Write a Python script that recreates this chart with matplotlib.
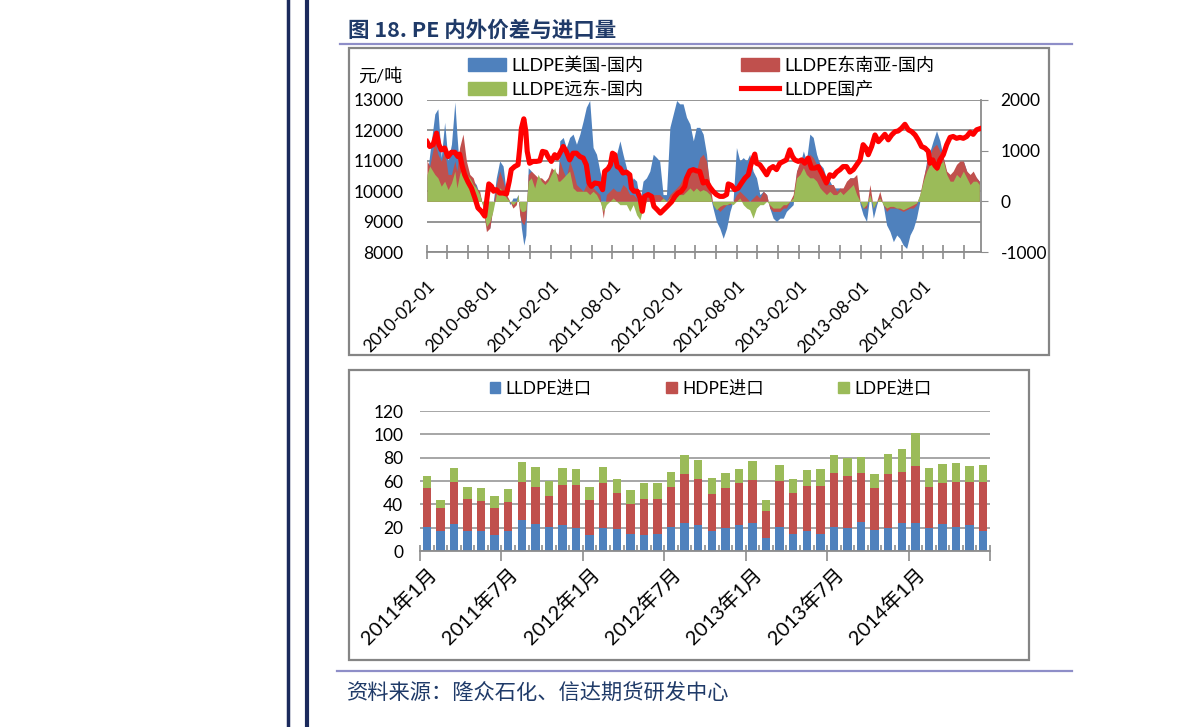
import matplotlib
matplotlib.use("Agg")
import matplotlib.pyplot as plt
import matplotlib.dates as mdates
from matplotlib.patches import Patch, Rectangle
from matplotlib.lines import Line2D
import numpy as np
import pandas as pd

plt.rcParams['font.family'] = ['Lato', 'Noto Sans CJK SC', 'DejaVu Sans']
plt.rcParams['axes.unicode_minus'] = False

# ---------------- data: top chart ----------------
start_date = "2010-02-01"
x_end_day = 1631

price_day = [0, 8, 18, 28, 35, 42, 52, 62, 72, 82, 91, 96, 104, 111, 121, 131, 141, 150, 160, 170,
             175, 182, 190, 196, 204, 214, 224, 234, 242, 248, 258, 268, 273, 278, 285, 291, 295, 302, 312, 322,
             332, 340, 350, 356, 366, 376, 383,
             391, 401, 410, 420, 430, 440, 450, 460, 469, 477, 484, 494, 509, 517, 523, 533, 540, 546, 553, 560,
             568, 577, 587, 597, 602, 609, 619, 627, 634, 641, 651, 661, 668, 678, 687, 697, 707, 720, 730, 739,
             749, 759, 764, 774, 784, 793,
             803, 813, 823, 833, 842, 852, 862, 872, 882, 887, 897, 906, 916, 926, 936, 946, 952, 958, 965, 970,
             980, 990, 1000, 1009, 1019, 1029, 1039, 1049, 1058, 1068, 1076, 1083, 1093, 1103, 1112, 1122, 1132,
             1142, 1152, 1162, 1171, 1176, 1186, 1196, 1206,
             1216, 1225, 1235, 1245, 1255, 1265, 1275, 1284, 1292, 1299, 1309, 1319, 1329, 1338, 1348, 1358, 1368,
             1378, 1387, 1397, 1407, 1417, 1427, 1437, 1446, 1456, 1466, 1476, 1481, 1489, 1495, 1502, 1510, 1520,
             1530, 1540, 1549, 1559, 1569, 1579, 1589, 1599, 1608, 1618, 1626]
price_lldpe = [11630, 11470, 11530, 11910, 11530, 11360, 11420, 11140, 11280, 11280, 11140, 11220, 10810, 10540,
               10300, 10100, 9780, 9450, 9340, 9180, 9610, 10240, 10160, 10000, 10050, 9940, 9940, 9910, 10320,
               10710, 10810, 10870, 11420, 12070, 12380, 11960, 11310, 10920, 10980, 10980, 11000, 11310, 11280,
               11140, 10980, 11200, 11090,
               11250, 11470, 11310, 11030, 11250, 11250, 11140, 11090, 10870, 10270, 10160, 10270, 10240, 10050,
               10650, 10740, 10870, 11250, 11200, 10810, 10760, 10600, 10630, 10540, 10100, 10000, 10000, 9780,
               9340, 9830, 9890, 9830, 9500, 9390, 9280, 9390, 9500, 9650, 9830, 9940, 10000, 10160, 10430, 10670,
               10710, 10670,
               10650, 10270, 10320, 10130, 10000, 9890, 9830, 9830, 9890, 10240, 10190, 10050, 10100, 10270, 10430,
               10540, 10810, 11030, 11220, 10920, 10870, 10710, 10540, 10740, 10810, 10710, 10920, 10980, 11030,
               11360, 11140, 11030, 10980, 11030, 10920, 11090, 10760, 10760, 10810, 10600, 10380, 10270, 10540,
               10490, 10630,
               10710, 10810, 10810, 10630, 10710, 10870, 11030, 11530, 11420, 11200, 11470, 11850, 11630, 11740,
               11870, 11690, 11850, 11960, 11980, 12070, 12200, 12020, 11960, 11850, 11690, 11470, 11420, 11310,
               10920, 11030, 10850, 10760, 11030, 11200, 11530, 11770, 11800, 11740, 11770, 11740, 11800, 11940,
               11870, 12020, 12050]

spread_day = [0, 8, 23, 32, 42, 52, 62, 72, 82, 88, 96, 106, 116, 126, 136, 145, 155, 165, 175, 185,
              194, 204, 214, 224, 234, 244, 253, 263, 268, 273, 278, 285, 291, 298, 307, 317, 327, 337, 347, 356,
              366, 376, 386,
              391, 401, 410, 420, 430, 440, 450, 460, 469, 479, 489, 499, 509, 519, 528, 538, 548, 558, 568, 577,
              587, 597, 607, 617, 627, 636, 646, 656, 666, 676, 685, 695, 705, 715, 725, 735, 744, 754, 764, 774,
              784, 793,
              803, 813, 823, 833, 842, 852, 862, 872, 882, 892, 901, 911, 921, 931, 941, 950, 960, 970, 980, 990,
              1000, 1009, 1019, 1029, 1039, 1049, 1058, 1068, 1078, 1088, 1098, 1108, 1117, 1127, 1137, 1147, 1157,
              1166, 1176, 1186, 1196, 1206,
              1216, 1225, 1235, 1245, 1255, 1265, 1275, 1284, 1294, 1304, 1314, 1324, 1333, 1343, 1353, 1363, 1373,
              1383, 1392, 1402, 1412, 1422, 1432, 1441, 1451, 1461, 1471, 1481, 1490, 1500, 1510, 1520, 1530, 1540,
              1549, 1559, 1569, 1579, 1589, 1599, 1608, 1618, 1626]
spread_us = [464, 929, 1725, 1825, 863, 1560, 796, 1128, 1960, 1327, 597, 531, 464, 464, 398, 332, 133, -66, -398,
             -531, -66, 464, 796, 697, 133, -66, 66, 66, 133, -199, -531, -863, -664, 664, 597, 464, 398, 398, 332,
             464, 531, 531, 464,
             1194, 1261, 1062, 1261, 1327, 1128, 1327, 1593, 1858, 1990, 1062, 929, 597, 332, 664, 796, 863, 929,
             1194, 929, 664, 265, 464, 398, 0, 398, 464, 597, 929, 863, 796, 133, 133, 1460, 1725, 1990, 1924, 1924,
             1659, 1526, 1194, 1460,
             1460, 1327, 929, 133, -133, -398, -531, -730, -531, -199, 0, 1062, 796, 863, 796, 929, 597, 464, 133,
             199, 133, -133, -332, -398, -332, -332, -199, -133, -66, 597, 730, 995, 796, 1327, 1261, 929, 730, 664,
             464, 398, 265, 265,
             265, 199, 332, 464, 464, 398, -66, -265, -398, 133, -332, -66, 133, -66, -465, -597, -796, -664, -730,
             -863, -929, -664, -531, -332, 0, 398, 796, 995, 1194, 1394, 1194, 863, 531, 464, 531, 664, 730, 796,
             597, 464, 531, 464, 398]
spread_sea = [796, 697, 1194, 929, 796, 995, 531, 531, 796, 597, 1062, 1327, 796, 531, 464, 265, 199, -133, -597,
              -531, -133, 332, 597, 398, 133, 0, -133, -66, 133, -265, -398, -465, -332, 531, 597, 531, 464, 464, 398,
              464, 664, 597, 531,
              796, 597, 464, 796, 597, 332, 265, 199, 332, 398, 265, 199, 133, -332, 133, 199, 265, 199, 199, 332,
              265, 133, 133, 66, -199, 0, 66, 133, 133, 133, 133, 66, 0, 133, 199, 265, 332, 464, 531, 597, 664, 597,
              863, 929, 796, 332, -66, -133, -199, -133, -66, -66, 0, 133, 199, 133, 66, 0, 66, 133, 66, 199, 133,
              -133, -199, -199, -199, -133, -133, 0, 133, 597, 796, 796, 730, 929, 863, 730, 597, 464, 332, 332, 332,
              199,
              265, 265, 398, 464, 464, 531, 0, -133, -133, 332, -133, 0, 199, -66, -199, -133, -133, -133, -166, -199,
              -166, -133, -133, -66, 133, 464, 730, 929, 1062, 1128, 995, 863, 597, 531, 597, 730, 796, 796, 597, 531,
              597, 464, 398]
spread_fe = [531, 697, 531, 464, 299, 398, 232, 365, 597, 265, 531, 730, 531, 464, 332, 265, 133, -100, -498, -398,
             -199, 133, 265, 199, 66, 0, -66, 0, 133, -133, -199, -199, -166, 398, 464, 265, 531, 398, 332, 398,
             531, 664, 398,
             398, 464, 531, 597, 265, 199, 199, 199, 199, 133, 199, 133, 0, -199, -66, 0, 66, 0, -66, -66, -66, -199,
             -66, -265, -365, -133, 0, 0, 0, 0, 0, 66, 0, 66, 133, 133, 133, 133, 199, 265, 199, 265,
             199, 232, 199, 133, -66, -166, -100, -66, -66, -33, -66, 0, 66, -66, -133, -166, -332, -133, -66, -66,
             0, -66, -133, -133, -133, -66, -66, 0, 66, 464, 531, 664, 531, 464, 464, 398, 265, 199, 133, 199, 133,
             133,
             199, 133, 199, 265, 332, 133, 0, -133, -66, 133, -133, 0, 66, -66, -133, -100, -100, -133, -133, -166,
             -133, -100, -66, -33, 133, 398, 597, 730, 730, 597, 730, 796, 531, 398, 398, 531, 464, 597, 464, 332,
             398, 398, 332]

# ---------------- data: bottom chart ----------------
months = ["2011年1月", "2011年2月", "2011年3月", "2011年4月", "2011年5月", "2011年6月",
          "2011年7月", "2011年8月", "2011年9月", "2011年10月", "2011年11月", "2011年12月",
          "2012年1月", "2012年2月", "2012年3月", "2012年4月", "2012年5月", "2012年6月",
          "2012年7月", "2012年8月", "2012年9月", "2012年10月", "2012年11月", "2012年12月",
          "2013年1月", "2013年2月", "2013年3月", "2013年4月", "2013年5月", "2013年6月",
          "2013年7月", "2013年8月", "2013年9月", "2013年10月", "2013年11月", "2013年12月",
          "2014年1月", "2014年2月", "2014年3月", "2014年4月", "2014年5月", "2014年6月"]
lldpe_imp = [21, 17, 23, 17, 17, 14, 17, 27, 23, 21, 22, 20, 14, 20, 19, 15, 14, 15, 21, 24, 22,
             17, 20, 22, 24, 11, 21, 15, 17, 15, 21, 20, 25, 18, 20, 24, 24, 20, 23, 21, 22, 17]
hdpe_imp = [33, 20, 36, 28, 26, 23, 25, 32, 32, 26, 35, 37, 30, 38, 31, 25, 31, 30, 34, 42, 40,
            32, 34, 36, 37, 23, 39, 35, 39, 41, 46, 44, 42, 36, 46, 44, 49, 35, 35, 38, 37, 42]
ldpe_imp = [10, 7, 12, 10, 11, 10, 11, 17, 17, 13, 14, 13, 11, 14, 12, 12, 13, 13, 13, 16, 16,
            14, 13, 12, 16, 10, 14, 12, 13, 14, 15, 16, 14, 12, 17, 19, 28, 16, 17, 16, 14, 15]

# ---------------- style ----------------
BLUE = "#4F81BD"
RED = "#C0504D"
GREEN = "#9BBB59"
GRID = "#8C8C8C"
NAVY = "#1B2A5C"
TITLE_C = "#1F3A68"
SEP = "#8E8EC8"
W, H = 1191, 727

fig = plt.figure(figsize=(W / 100, H / 100), dpi=100)
fig.patch.set_facecolor("white")

# decorative vertical lines on the left
fig.add_artist(Line2D([288 / W, 288 / W], [0, 1], transform=fig.transFigure, color=NAVY, lw=2.5))
fig.add_artist(Line2D([307 / W, 307 / W], [0, 1], transform=fig.transFigure, color=NAVY, lw=3))

# title & separators
fig.text(348 / W, 1 - 30 / H, "图 18. PE 内外价差与进口量", fontsize=15.5, fontweight="bold",
         color=TITLE_C, va="center", ha="left", family=['Noto Sans CJK SC'])
fig.add_artist(Line2D([340 / W, 1072 / W], [1 - 44 / H, 1 - 44 / H], transform=fig.transFigure, color=SEP, lw=1.6))
fig.add_artist(Line2D([337 / W, 1072 / W], [1 - 671 / H, 1 - 671 / H], transform=fig.transFigure, color=SEP, lw=1.6))
fig.text(347 / W, 1 - 694 / H, "资料来源：隆众石化、信达期货研发中心", fontsize=15.3, color=TITLE_C,
         va="center", ha="left", family=['Noto Sans CJK SC'])

# chart frames
fig.add_artist(Rectangle((349 / W, 1 - 355 / H), 700 / W, 307 / H, transform=fig.transFigure,
                         fill=False, ec="#858585", lw=1.6))
fig.add_artist(Rectangle((349 / W, 1 - 660 / H), 680 / W, 290 / H, transform=fig.transFigure,
                         fill=False, ec="#858585", lw=1.6))

# ---------------- top chart ----------------
t0 = pd.Timestamp(start_date)
pdates = t0 + pd.to_timedelta(price_day, unit="D")
sdates = t0 + pd.to_timedelta(spread_day, unit="D")

axL = fig.add_axes([427 / W, 1 - 252 / H, 554 / W, 152 / H])
axS = axL.twinx()
axP = axL.twinx()

axL.set_ylim(8000, 13000)
axL.set_yticks(range(8000, 13001, 1000))
axL.grid(axis="y", color=GRID, lw=1.3)
axL.set_axisbelow(True)
axL.tick_params(axis="y", length=0, pad=17, labelsize=12.5)
for s in ["left", "right", "top"]:
    axL.spines[s].set_visible(False)
axL.spines["bottom"].set_color(GRID)
axL.spines["bottom"].set_linewidth(1.3)
axL.set_xlim(t0, t0 + pd.Timedelta(days=x_end_day))
axL.xaxis.set_major_locator(mdates.MonthLocator(bymonth=[2, 8]))
axL.xaxis.set_major_formatter(mdates.DateFormatter("%Y-%m-%d"))
axL.xaxis.set_minor_locator(mdates.MonthLocator(bymonth=[2, 4, 6, 8, 10, 12]))
axL.tick_params(axis="x", which="both", direction="inout", length=10, color=GRID, width=1.2)
axL.tick_params(axis="x", which="major", pad=14, labelsize=12.5)
for lab in axL.get_xticklabels():
    lab.set_rotation(45)
    lab.set_ha("right")
    lab.set_va("top")
    lab.set_rotation_mode("anchor")

axS.fill_between(sdates, 0, spread_us, color=BLUE, lw=0)
axS.fill_between(sdates, 0, spread_sea, color=RED, lw=0)
axS.fill_between(sdates, 0, spread_fe, color=GREEN, lw=0)
axS.set_ylim(-1000, 2000)
axS.set_yticks([-1000, 0, 1000, 2000])
axS.tick_params(axis="y", length=5, direction="out", color=GRID, pad=9, labelsize=12.5)
for s in ["left", "top", "bottom"]:
    axS.spines[s].set_visible(False)
axS.spines["right"].set_color(GRID)
axS.spines["right"].set_linewidth(1.3)

axP.plot(pdates, price_lldpe, color="#FF0000", lw=3.7, solid_joinstyle="round")
axP.set_ylim(8000, 13000)
axP.set_yticks([])
for s in axP.spines.values():
    s.set_visible(False)

fig.text(358 / W, 1 - 76 / H, "元/吨", fontsize=13, va="center", ha="left")

top_handles = [Patch(color=BLUE), Patch(color=GREEN), Patch(color=RED),
               Line2D([], [], color="#FF0000", lw=3.7)]
top_labels = ["LLDPE美国-国内", "LLDPE远东-国内", "LLDPE东南亚-国内", "LLDPE国产"]
fig.legend(top_handles, top_labels, ncol=2, loc="upper left", bbox_to_anchor=(468 / W, 1 - 57 / H),
           frameon=False, fontsize=13, handlelength=2.1, handleheight=0.72, handletextpad=0.3,
           columnspacing=5.4, labelspacing=0.4, borderpad=0, borderaxespad=0)

# ---------------- bottom chart ----------------
axB = fig.add_axes([420 / W, 1 - 551 / H, 570 / W, 140 / H])
x = np.arange(len(months))
l1 = np.array(lldpe_imp)
l2 = np.array(hdpe_imp)
l3 = np.array(ldpe_imp)
axB.bar(x, l1, width=0.62, color=BLUE, zorder=3)
axB.bar(x, l2, bottom=l1, width=0.62, color=RED, zorder=3)
axB.bar(x, l3, bottom=l1 + l2, width=0.62, color=GREEN, zorder=3)
axB.set_xlim(-0.5, len(months) - 0.5)
axB.set_ylim(0, 120)
axB.set_yticks(range(0, 121, 20))
axB.grid(axis="y", color="#A6A6A6", lw=1.4, zorder=0)
axB.set_axisbelow(True)
for s in ["left", "right", "top"]:
    axB.spines[s].set_visible(False)
axB.spines["bottom"].set_color(GRID)
axB.spines["bottom"].set_linewidth(1.3)
axB.spines["bottom"].set_zorder(4)
axB.tick_params(axis="y", length=0, pad=12, labelsize=12.5)
axB.set_xticks(x[::6])
axB.set_xticklabels(months[::6])
axB.set_xticks(np.arange(-0.5, len(months), 1), minor=True)
axB.tick_params(axis="x", which="major", length=0, pad=10, labelsize=14.5)
axB.tick_params(axis="x", which="minor", direction="in", length=4, color=GRID, width=1.2)
for lab in axB.get_xticklabels():
    lab.set_rotation(45)
    lab.set_ha("right")
    lab.set_va("top")
    lab.set_rotation_mode("anchor")
sec = axB.secondary_xaxis("bottom")
sec.set_xticks(np.arange(-0.5, len(months), 6))
sec.set_xticklabels([])
sec.tick_params(axis="x", direction="out", length=7, color=GRID, width=1.2)
sec.spines["bottom"].set_visible(False)

bot_handles = [Patch(color=BLUE), Patch(color=RED), Patch(color=GREEN)]
bot_labels = ["LLDPE进口", "HDPE进口", "LDPE进口"]
fig.legend(bot_handles, bot_labels, ncol=3, loc="upper left", bbox_to_anchor=(490 / W, 1 - 380 / H),
           frameon=False, fontsize=12.5, handlelength=0.6, handleheight=0.6, handletextpad=0.3,
           columnspacing=4.3, borderpad=0, borderaxespad=0)

fig.savefig("out.png", dpi=100, facecolor="white")
